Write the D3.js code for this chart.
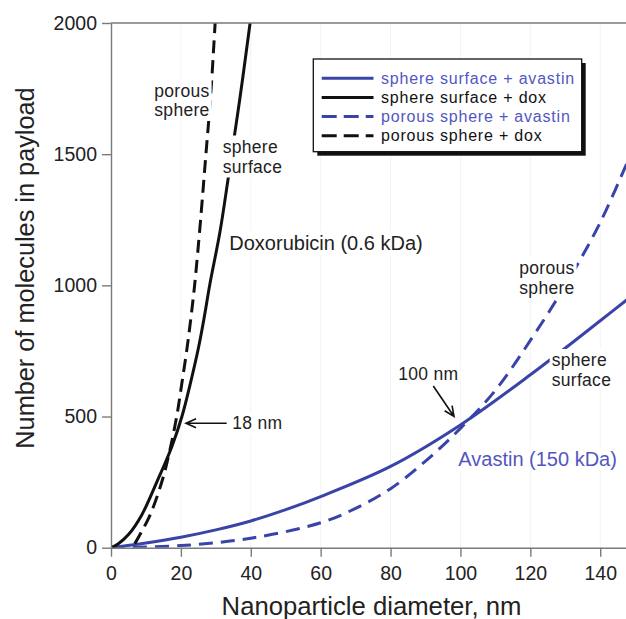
<!DOCTYPE html>
<html><head><meta charset="utf-8">
<script src="https://cdn.jsdelivr.net/npm/d3@7"></script>
<style>
body{margin:0;background:#fff;}
svg{display:block;font-family:"Liberation Sans",Arial,Helvetica,sans-serif;}
</style></head>
<body><svg id="c" width="626" height="619"></svg>
<script>
// ---- data ----
const xTicks = [0, 20, 40, 60, 80, 100, 120, 140];
const yTicks = [0, 500, 1000, 1500, 2000];

const sphereDoxX = [0, 2.1, 5.0, 8.8, 13.1, 17.4, 20.4, 22.6, 25.0, 26.7, 28.3, 31.2, 33.4, 35.5, 36.9, 38.6, 39.8];
const sphereDoxY = [0, 15, 50, 125, 250, 385, 505, 620, 760, 880, 1005, 1205, 1396, 1587, 1714, 1880, 2000];

const porousDoxX = [6.8, 8.5, 11.2, 14.7, 16.9, 18.8, 20.2, 21.7, 22.9, 24.0, 25.7, 27.1, 28.5, 29.8];
const porousDoxY = [15, 55, 125, 258, 375, 500, 620, 755, 880, 1010, 1260, 1490, 1720, 2000];

const sphereAvaX = [0, 10, 20, 30, 40, 50, 60, 80, 100, 120, 140, 150];
const sphereAvaY = [0, 18, 40, 68, 102, 145, 195, 310, 468, 659, 865, 970];

const porousAvaX = [0, 20, 40, 60, 70, 80, 90, 100, 110, 120, 130, 140, 150];
const porousAvaY = [0, 8, 36, 95, 150, 225, 330, 455, 600, 790, 1000, 1240, 1540];

const legendLabels = ["sphere surface + avastin", "sphere surface + dox", "porous sphere + avastin", "porous sphere + dox"];

// ---- styles ----
const BLUE = "#3a44a8";
const BLUE_TXT = "#5257bf";
const BLACK = "#111";

const svg = d3.select("#c");
const L = 111, R = 111 + 150 * 3.4945, T = 23, B = 547.7;
const x = d3.scaleLinear().domain([0, 150]).range([L, R]);
const y = d3.scaleLinear().domain([0, 2000]).range([B, T]);

// faint grid
svg.append("g").selectAll("line").data(xTicks.filter(d => d > 0)).join("line")
  .attr("x1", d => x(d)).attr("x2", d => x(d)).attr("y1", T).attr("y2", B)
  .attr("stroke", "#f3f3f3").attr("stroke-width", 1);

// clip
svg.append("clipPath").attr("id", "clip").append("rect")
  .attr("x", L).attr("y", T).attr("width", R - L).attr("height", B - T);

const series = [
  {xs: sphereAvaX, ys: sphereAvaY, color: BLUE, dash: null, w: 3},
  {xs: porousAvaX, ys: porousAvaY, color: BLUE, dash: "14,8", w: 3},
  {xs: sphereDoxX, ys: sphereDoxY, color: BLACK, dash: null, w: 3},
  {xs: porousDoxX, ys: porousDoxY, color: BLACK, dash: "13,7", w: 3},
];
const line = d3.line().x(d => x(d[0])).y(d => y(d[1])).curve(d3.curveCatmullRom.alpha(0.5));
const gl = svg.append("g").attr("clip-path", "url(#clip)");
series.forEach(s => {
  const pts = s.xs.map((v, i) => [v, s.ys[i]]);
  gl.append("path").attr("d", line(pts)).attr("fill", "none")
    .attr("stroke", s.color).attr("stroke-width", s.w)
    .attr("stroke-dasharray", s.dash).attr("stroke-linejoin", "round");
});

// axes
const AX = "#7a7a7a";
const gx = svg.append("g").attr("transform", `translate(0,${B})`)
  .call(d3.axisBottom(x).tickValues(xTicks).tickFormat(d3.format("d")).tickSize(9).tickPadding(9.5).tickSizeOuter(0));
const gy = svg.append("g").attr("transform", `translate(${L},0)`)
  .call(d3.axisLeft(y).tickValues(yTicks).tickFormat(d3.format("d")).tickSize(9).tickPadding(5).tickSizeOuter(0));
[gx, gy].forEach(g => {
  g.select(".domain").attr("stroke", AX).attr("stroke-width", 1.4);
  g.selectAll(".tick line").attr("stroke", AX).attr("stroke-width", 1.4);
  g.selectAll(".tick text").attr("fill", "#222").attr("font-size", "19.5px")
    .attr("font-family", "'Liberation Sans',Arial,sans-serif");
});
// top border
svg.append("line").attr("x1", L).attr("x2", 626).attr("y1", T).attr("y2", T)
  .attr("stroke", AX).attr("stroke-width", 1.4);

// axis titles
svg.append("text").attr("x", (L + 626) / 2 + 3).attr("y", 615).attr("text-anchor", "middle")
  .attr("font-size", "25.7px").attr("fill", "#222").text("Nanoparticle diameter, nm");
svg.append("text").attr("transform", "translate(33.5,268) rotate(-90)").attr("text-anchor", "middle")
  .attr("font-size", "25.3px").attr("fill", "#222").text("Number of molecules in payload");

// annotation labels with white backgrounds
function label(lines, x0, y0, dy, color, size, spacing) {
  const g = svg.append("g");
  const bg = g.append("rect").attr("fill", "#fff");
  const t = g.append("text").attr("font-size", size + "px").attr("fill", color)
    .attr("letter-spacing", spacing + "px");
  lines.forEach((s, i) => t.append("tspan").attr("x", x0).attr("y", y0 + i * dy).text(s));
  const bb = t.node().getBBox();
  bg.attr("x", bb.x - 2).attr("y", bb.y - 1).attr("width", bb.width + 4).attr("height", bb.height + 2);
}
label(["porous", "sphere"], 154.3, 97, 19, "#222", 17.5, 0.3);
label(["sphere", "surface"], 222.7, 152.5, 20, "#222", 17.5, 0.3);
label(["Doxorubicin (0.6 kDa)"], 229.3, 250, 0, "#222", 20, 0);
label(["porous", "sphere"], 519.3, 274, 20, "#222", 17.5, 0.3);
label(["sphere", "surface"], 551.7, 366, 19.5, "#222", 17.5, 0.3);
label(["100 nm"], 398.3, 380, 0, "#222", 17.5, 0.3);
label(["18 nm"], 232.3, 429.3, 0, "#222", 17.5, 0.3);
label(["Avastin (150 kDa)"], 458.3, 465.7, 0, BLUE_TXT, 20, 0);

// arrows
function arrow(x1, y1, x2, y2) {
  const a = Math.atan2(y2 - y1, x2 - x1), len = 11, sp = 0.42;
  const p = d3.path();
  p.moveTo(x1, y1); p.lineTo(x2, y2);
  p.moveTo(x2 - len * Math.cos(a - sp), y2 - len * Math.sin(a - sp));
  p.lineTo(x2, y2);
  p.lineTo(x2 - len * Math.cos(a + sp), y2 - len * Math.sin(a + sp));
  svg.append("path").attr("d", p.toString()).attr("fill", "none")
    .attr("stroke", "#111").attr("stroke-width", 1.6);
}
arrow(226.7, 423.3, 186, 423.3);
arrow(433.3, 386, 454, 416.5);

// legend
const lg = svg.append("g");
const bx = 313.3, by = 59, bw = 268.4, bh = 92.7;
lg.append("rect").attr("x", bx + 4).attr("y", by + 4).attr("width", bw).attr("height", bh).attr("fill", "#111");
lg.append("rect").attr("x", bx).attr("y", by).attr("width", bw).attr("height", bh)
  .attr("fill", "#fff").attr("stroke", "#111").attr("stroke-width", 1.3);
const legSeries = [series[0], series[2], series[1], series[3]];
const legTxt = [BLUE_TXT, "#111", BLUE_TXT, "#111"];
legendLabels.forEach((s, i) => {
  const yy = 78.3 + i * 19.15;
  lg.append("line").attr("x1", 321.7).attr("x2", 373.5).attr("y1", yy).attr("y2", yy)
    .attr("stroke", legSeries[i].color).attr("stroke-width", 3)
    .attr("stroke-dasharray", legSeries[i].dash ? "15,7" : null);
  lg.append("text").attr("x", 381).attr("y", yy + 5.5).attr("font-size", "16px")
    .attr("letter-spacing", "0.8px").attr("fill", legTxt[i]).text(s);
});
</script></body></html>
